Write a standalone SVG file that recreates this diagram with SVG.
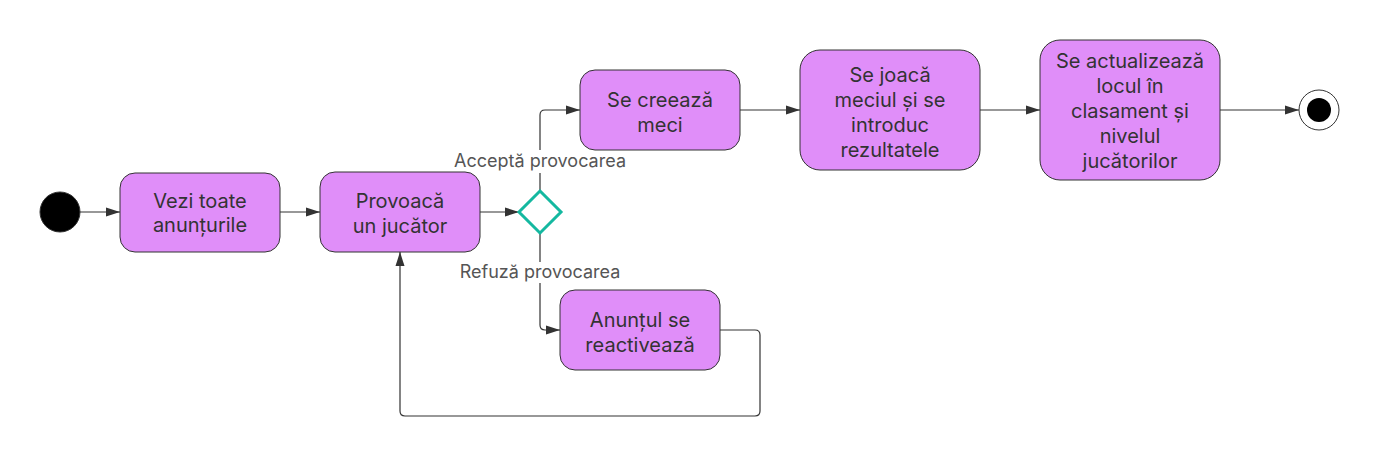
<svg xmlns="http://www.w3.org/2000/svg" width="1380" height="458" viewBox="0 0 1380 458">
<defs>
<marker id="arr" viewBox="0 0 14 10" refX="14" refY="5" markerWidth="14" markerHeight="10" markerUnits="userSpaceOnUse" orient="auto">
<path d="M0,0.5 L14,5 L0,9.5 Z" fill="#333"/>
</marker>
<style>
.node{fill:#e08ef9;stroke:#333;stroke-width:1}
.t{font-family:Inter,"Liberation Sans",sans-serif;font-size:20px;fill:#333;text-anchor:middle}
.lbl{font-family:Inter,"Liberation Sans",sans-serif;font-size:18px;fill:#555;text-anchor:middle}
.c{fill:none;stroke:#333;stroke-width:1.2}
</style>
</defs>
<rect width="1380" height="458" fill="#fff"/>
<g id="connectors">
<path class="c" d="M80,212 H120" marker-end="url(#arr)"/>
<path class="c" d="M280,212 H320" marker-end="url(#arr)"/>
<path class="c" d="M480,212 H519" marker-end="url(#arr)"/>
<path class="c" d="M540,191 V115 Q540,110 545,110 H580" marker-end="url(#arr)"/>
<path class="c" d="M540,233 V325 Q540,330 545,330 H560" marker-end="url(#arr)"/>
<path class="c" d="M720,330 H755 Q760,330 760,335 V411 Q760,416 755,416 H405 Q400,416 400,411 V252" marker-end="url(#arr)"/>
<path class="c" d="M740,110 H800" marker-end="url(#arr)"/>
<path class="c" d="M980,110 H1040" marker-end="url(#arr)"/>
<path class="c" d="M1220,110 H1299" marker-end="url(#arr)"/>
<rect x="450" y="150" width="180" height="23" fill="#fff"/>
<text class="lbl" x="540" y="167">Acceptă provocarea</text>
<rect x="455" y="262" width="170" height="21" fill="#fff"/>
<text class="lbl" x="540" y="278">Refuză provocarea</text>
</g>
<g id="start"><circle cx="60" cy="212" r="20" fill="#000" stroke="#333" stroke-width="1"/></g>
<g id="n1"><rect class="node" x="120" y="173" width="160" height="79" rx="15"/>
<text class="t" x="200" y="208">Vezi toate</text><text class="t" x="200" y="232">anunțurile</text></g>
<g id="n2"><rect class="node" x="320" y="172" width="160" height="80" rx="15"/>
<text class="t" x="400" y="208">Provoacă</text><text class="t" x="400" y="233">un jucător</text></g>
<g id="decision"><path d="M540,191 L561,212 L540,233 L519,212 Z" fill="#fff" stroke="#14b8a0" stroke-width="3"/></g>
<g id="n3"><rect class="node" x="580" y="70" width="160" height="80" rx="15"/>
<text class="t" x="660" y="107">Se creează</text><text class="t" x="660" y="132">meci</text></g>
<g id="n4"><rect class="node" x="560" y="290" width="160" height="80" rx="15"/>
<text class="t" x="640" y="327">Anunțul se</text><text class="t" x="640" y="352">reactivează</text></g>
<g id="n5"><rect class="node" x="800" y="50" width="180" height="120" rx="20"/>
<text class="t" x="890" y="82">Se joacă</text><text class="t" x="890" y="107">meciul și se</text><text class="t" x="890" y="132">introduc</text><text class="t" x="890" y="157">rezultatele</text></g>
<g id="n6"><rect class="node" x="1040" y="40" width="180" height="140" rx="20"/>
<text class="t" x="1130" y="68">Se actualizează</text><text class="t" x="1130" y="93">locul în</text><text class="t" x="1130" y="118">clasament și</text><text class="t" x="1130" y="143">nivelul</text><text class="t" x="1130" y="168">jucătorilor</text></g>
<g id="end"><circle cx="1319" cy="110" r="20" fill="#fff" stroke="#333" stroke-width="1"/><circle cx="1319" cy="110" r="12" fill="#000"/></g>
</svg>
